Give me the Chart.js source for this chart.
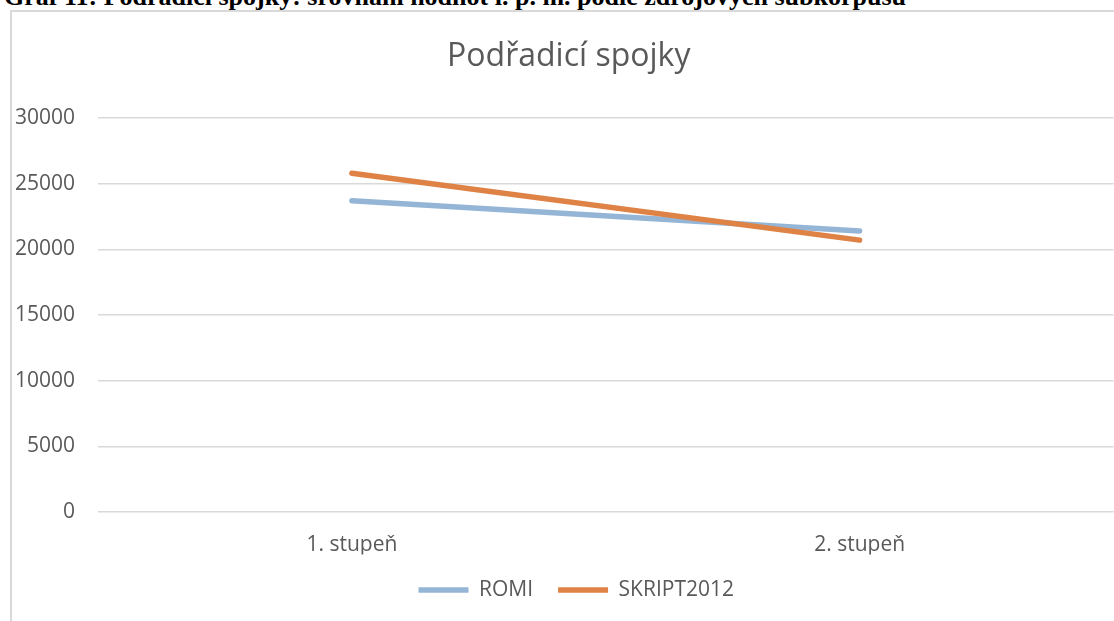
<!DOCTYPE html>
<html>
<head>
<meta charset="utf-8">
<script src="https://cdn.jsdelivr.net/npm/chart.js@4/dist/chart.umd.min.js"></script>
<style>
  html, body { margin: 0; padding: 0; width: 1114px; height: 621px; overflow: hidden; background: #fff; }
  #caption { position: absolute; left: 4px; top: -16px; font-family: "Liberation Serif", "Times New Roman", serif; font-weight: bold; font-size: 26px; line-height: 26px; color: #000; white-space: nowrap; }
  #frame { position: absolute; left: 10px; top: 10px; width: 1200px; height: 700px; border-top: 2px solid #d9d9d9; border-left: 2px solid #d9d9d9; box-sizing: border-box; }
  #wrap { position: absolute; left: 10px; top: 11px; width: 1120px; height: 630px; }
</style>
</head>
<body>
<div id="caption">Graf 11: Podřadicí spojky: srovnání hodnot i. p. m. podle zdrojových subkorpusů</div>
<div id="frame"></div>
<div id="wrap"><canvas id="c" width="1120" height="630"></canvas></div>
<script>
const chartTitle = "Podřadicí spojky";
const categories = ["1. stupeň", "2. stupeň"];
const romiValues = [23700, 21400];
const skriptValues = [25800, 20700];
const seriesNames = ["ROMI", "SKRIPT2012"];
const yTicks = [0, 5000, 10000, 15000, 20000, 25000, 30000];

const textColor = "#595959";
const fontFamily = "'Open Sans', sans-serif";

const boxShift = {
  id: "boxShift",
  afterLayout(chart) {
    if (chart.legend) { chart.legend.left += 29; }
    if (chart.titleBlock) { chart.titleBlock.left += 7; chart.titleBlock.right += 7; }
  }
};

new Chart(document.getElementById("c"), {
  type: "line",
  data: {
    labels: categories,
    datasets: [
      { label: seriesNames[0], data: romiValues, borderColor: "#95b5d6", backgroundColor: "#95b5d6",
        borderWidth: 5.5, borderCapStyle: "round", pointRadius: 0, pointHoverRadius: 0, tension: 0, order: 1 },
      { label: seriesNames[1], data: skriptValues, borderColor: "#df8245", backgroundColor: "#df8245",
        borderWidth: 5.5, borderCapStyle: "round", pointRadius: 0, pointHoverRadius: 0, tension: 0, order: 0 }
    ]
  },
  plugins: [boxShift],
  options: {
    responsive: false,
    animation: false,
    layout: { padding: { left: 0, right: 16.5, top: 0, bottom: 30.5 } },
    plugins: {
      title: { display: true, text: chartTitle, color: textColor,
        font: { family: fontFamily, size: 32, weight: "normal" },
        padding: { top: 26.8, bottom: 41.8 } },
      legend: { position: "bottom",
        labels: { usePointStyle: true, pointStyle: "line", pointStyleWidth: 50, padding: 25,
          color: textColor, font: { family: fontFamily, size: 21 },
          sort: (a, b) => a.datasetIndex - b.datasetIndex } },
      tooltip: { enabled: false }
    },
    scales: {
      x: { offset: true,
        afterFit: (s) => { s.height = 42.5; },
        grid: { display: false, drawTicks: false },
        border: { display: false },
        ticks: { color: textColor, font: { family: fontFamily, size: 21 }, padding: 20.9, maxRotation: 0 } },
      y: { min: 0, max: 30000,
        afterBuildTicks: (s) => { s.ticks = yTicks.map(v => ({ value: v })); },
        afterFit: (s) => { s.width = 88; },
        grid: { color: "#d9d9d9", lineWidth: 1.5, drawTicks: false },
        border: { display: false },
        ticks: { color: textColor, font: { family: fontFamily, size: 21 }, padding: 23, callback: (v) => String(v) } }
    }
  }
});
</script>
</body>
</html>
